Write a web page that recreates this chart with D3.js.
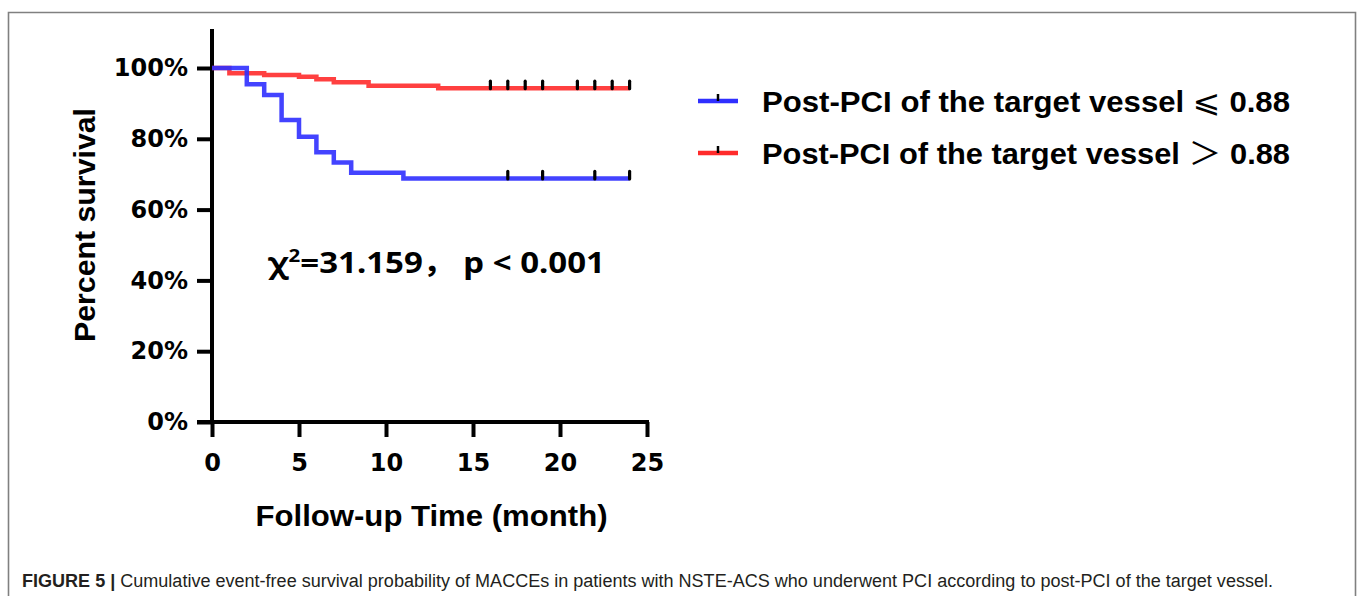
<!DOCTYPE html>
<html>
<head>
<meta charset="utf-8">
<script src="https://cdn.jsdelivr.net/npm/d3@7"></script>
<style>
  html, body { margin: 0; padding: 0; background: #fff; }
  svg { display: block; }
  .axis path, .axis line { stroke: #000; stroke-width: 4; }
  .axis text { font-family: "DejaVu Sans", sans-serif; font-weight: bold; font-size: 24px; fill: #000; }
</style>
</head>
<body>
<div id="chart"></div>
<script>
// Kaplan-Meier style step curves.
var lowTimes = [0, 2, 3, 4, 5, 6, 7, 8, 11, 24];
var lowSurvival = [100, 95.4, 92.4, 85.3, 80.6, 76.2, 73.3, 70.4, 68.8, 68.8];
var lowCensored = [17, 19, 22, 24];

var highTimes = [0, 1, 3, 5, 6, 7, 9, 13, 24];
var highSurvival = [100, 98.5, 98.0, 97.5, 96.8, 96.0, 95.0, 94.3, 94.3];
var highCensored = [16, 17, 18, 19, 21, 22, 23, 24];

var xTicks = [0, 5, 10, 15, 20, 25];
var yTicks = [0, 20, 40, 60, 80, 100];

var seriesNames = ["Post-PCI of the target vessel ", "Post-PCI of the target vessel "];
var seriesSigns = ["\u2A7D", "\uFF1E"];
var seriesValue = " 0.88";
var seriesColors = ["#2f2fff", "#ff2b2b"];

var width = 1357, height = 596;

//// SCALES /////////////////////////////////////////////////////////////////////
var x = d3.scaleLinear().domain([0, 25]).range([212, 647]);
var y = d3.scaleLinear().domain([0, 100]).range([422, 68]);

var svg = d3.select("#chart").append("svg")
    .attr("width", width)
    .attr("height", height);

// figure frame (open at the bottom, like the crop)
svg.append("path")
    .attr("d", "M8.5,600 V12.5 H1355.5 V600")
    .attr("fill", "none")
    .attr("stroke", "#808080")
    .attr("stroke-width", 1.6);

//// AXES ///////////////////////////////////////////////////////////////////////
var yAxis = svg.append("g")
    .attr("class", "axis")
    .attr("transform", "translate(" + x(0) + ",0)")
    .call(d3.axisLeft(y).tickValues(yTicks).tickSize(15).tickSizeOuter(0).tickPadding(9)
          .tickFormat(function(d) { return d + "%"; }));
yAxis.select(".domain").remove();
yAxis.append("line")
    .attr("y1", y(111)).attr("y2", y(0))
    .attr("stroke", "#000").attr("stroke-width", 4);

var xAxis = svg.append("g")
    .attr("class", "axis")
    .attr("transform", "translate(0," + y(0) + ")")
    .call(d3.axisBottom(x).tickValues(xTicks).tickSize(15).tickSizeOuter(0).tickPadding(10));
xAxis.select(".domain").remove();
xAxis.append("line")
    .attr("x1", x(0) - 15).attr("x2", x(25) + 2)
    .attr("stroke", "#000").attr("stroke-width", 4);
xAxis.selectAll("text").attr("dy", "1.0em");

svg.append("text")
    .attr("transform", "translate(95," + ((y(100) + y(0)) / 2 - 20) + ") rotate(-90)")
    .attr("text-anchor", "middle")
    .attr("textLength", 234)
    .attr("lengthAdjust", "spacingAndGlyphs")
    .style("font-family", "Liberation Sans, Arial, sans-serif")
    .style("font-weight", "bold")
    .style("font-size", "30px")
    .text("Percent survival");

svg.append("text")
    .attr("x", (x(0) + x(25)) / 2 + 2)
    .attr("y", 526)
    .attr("text-anchor", "middle")
    .attr("textLength", 352)
    .attr("lengthAdjust", "spacingAndGlyphs")
    .style("font-family", "Liberation Sans, Arial, sans-serif")
    .style("font-weight", "bold")
    .style("font-size", "29px")
    .text("Follow-up Time (month)");

//// CURVES /////////////////////////////////////////////////////////////////////
var step = d3.line()
    .x(function(d) { return x(d[0]); })
    .y(function(d) { return y(d[1]); })
    .curve(d3.curveStepAfter);

function drawCurve(times, surv, censored, color) {
    var pts = d3.zip(times, surv);
    svg.append("path")
        .datum(pts)
        .attr("d", step)
        .attr("fill", "none")
        .attr("stroke", color)
        .attr("stroke-width", 4.5)
        .attr("stroke-opacity", 0.9);

    // survival level at a given time
    var level = function(t) {
        var i = d3.bisectRight(times, t) - 1;
        return surv[Math.max(0, i)];
    };
    svg.selectAll(null)
        .data(censored)
        .enter().append("line")
        .attr("x1", function(d) { return x(d); })
        .attr("x2", function(d) { return x(d); })
        .attr("y1", function(d) { return y(level(d)) - 7; })
        .attr("y2", function(d) { return y(level(d)) + 0.5; })
        .attr("stroke", "#000")
        .attr("stroke-width", 3.2)
        .attr("stroke-linecap", "round");
}

drawCurve(highTimes, highSurvival, highCensored, seriesColors[1]);
drawCurve(lowTimes, lowSurvival, lowCensored, seriesColors[0]);

//// LEGEND /////////////////////////////////////////////////////////////////////
var legend = svg.append("g").attr("transform", "translate(698,101)");
seriesNames.forEach(function(name, i) {
    var row = legend.append("g").attr("transform", "translate(0," + (i * 52) + ")");
    row.append("line")
        .attr("x1", 0).attr("x2", 40)
        .attr("stroke", seriesColors[i]).attr("stroke-width", 4.5);
    row.append("line")
        .attr("x1", 20).attr("x2", 20)
        .attr("y1", -7).attr("y2", 0)
        .attr("stroke", "#000").attr("stroke-width", 2.5);
    var t = row.append("text")
        .attr("x", 64).attr("y", 11)
        .attr("textLength", 528)
        .attr("lengthAdjust", "spacingAndGlyphs")
        .style("font-family", "Liberation Sans, Arial, sans-serif")
        .style("font-weight", "bold")
        .style("font-size", "29px");
    t.append("tspan").text(name);
    t.append("tspan")
        .style("font-family", i === 0 ? "DejaVu Sans, sans-serif" : "Noto Sans CJK SC, sans-serif")
        .style("font-weight", "normal")
        .style("font-size", "31px")
        .text(seriesSigns[i]);
    t.append("tspan").text(seriesValue);
});

//// ANNOTATION /////////////////////////////////////////////////////////////////
var stat = svg.append("text")
    .attr("x", 268).attr("y", 273)
    .attr("textLength", 337)
    .attr("lengthAdjust", "spacingAndGlyphs")
    .style("font-family", "Noto Sans, Open Sans, sans-serif")
    .style("font-weight", "bold")
    .style("font-size", "29px");
stat.append("tspan").text("\u03C7");
stat.append("tspan").attr("dy", -11).style("font-size", "18px").text("2");
stat.append("tspan").attr("dy", 11).text("=31.159");
stat.append("tspan").style("font-family", "Noto Sans CJK SC, sans-serif").text("\uFF0C ");
stat.append("tspan").text("p < 0.001");

//// CAPTION ////////////////////////////////////////////////////////////////////
var caption = svg.append("text")
    .attr("x", 22).attr("y", 587)
    .attr("textLength", 1251)
    .attr("lengthAdjust", "spacingAndGlyphs")
    .style("font-family", "Liberation Sans, Arial, sans-serif")
    .style("font-size", "18px")
    .style("fill", "#231f20");
caption.append("tspan").style("font-weight", "bold").text("FIGURE 5 | ");
caption.append("tspan")
    .text("Cumulative event-free survival probability of MACCEs in patients with NSTE-ACS who underwent PCI according to post-PCI of the target vessel.");
</script>
</body>
</html>
